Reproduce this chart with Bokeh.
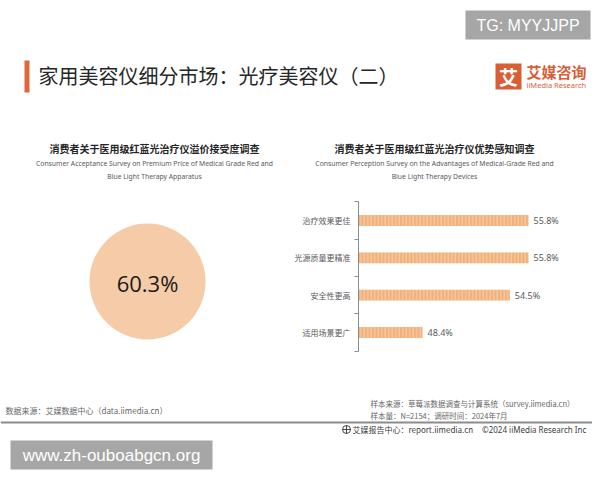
from bokeh.plotting import figure
from bokeh.layouts import column, row
from bokeh.models import Range1d, FixedTicker
from bokeh.core.properties import value
from bokeh.embed import file_html
from bokeh.resources import INLINE

# ---------------- data ----------------
page_title = "家用美容仪细分市场：光疗美容仪（二）"
watermark_top = "TG: MYYJJPP"
watermark_bottom = "www.zh-ouboabgcn.org"
logo_cn = "艾媒咨询"
logo_en = "iiMedia Research"

left_title_cn = "消费者关于医用级红蓝光治疗仪溢价接受度调查"
left_title_en = ["Consumer Acceptance Survey on Premium Price of Medical Grade Red and",
                 "Blue Light Therapy Apparatus"]
acceptance_rate = 60.3

right_title_cn = "消费者关于医用级红蓝光治疗仪优势感知调查"
right_title_en = ["Consumer Perception Survey on the Advantages of Medical-Grade Red and",
                  "Blue Light Therapy Devices"]
categories = ["治疗效果更佳", "光源质量更精准", "安全性更高", "适用场景更广"]
values = [55.8, 55.8, 54.5, 48.4]

source_left = "数据来源：艾媒数据中心（data.iimedia.cn）"
source_right = ["样本来源：草莓派数据调查与计算系统（survey.iimedia.cn）",
                "样本量：N=2154；调研时间：2024年7月"]
footer_left = "艾媒报告中心：report.iimedia.cn"
footer_right = "©2024  iiMedia Research  Inc"

CJK = "Noto Sans CJK SC"
LAT = "Liberation Sans"
ORANGE = "#E0673A"
LOGO = "#D75E36"
GRAY_BOX = "#A6A6A6"


def canvas(w, h, x0, x1, y_top, y_bottom):
    p = figure(width=w, height=h, x_range=Range1d(x0, x1),
               y_range=Range1d(start=y_bottom, end=y_top),
               x_axis_location=None, y_axis_location=None,
               toolbar_location=None, output_backend="svg",
               min_border=0, outline_line_color=None,
               background_fill_color="white", border_fill_color="white")
    p.grid.visible = False
    return p


def txt(p, x, y, s, size, color="#333333", font=CJK, align="left", style="normal"):
    p.text(x=[x], y=[y], text=[s], text_font=value(font), text_font_size=value(size),
           text_color=color, text_align=align, text_baseline="middle",
           text_font_style=style)


# ---------------- header ----------------
head = canvas(592, 198, 0, 592, 0, 198)
head.quad(left=[465], right=[590], top=[10], bottom=[39], fill_color=GRAY_BOX, line_color=None)
txt(head, 527.5, 24.5, watermark_top, "16px", "white", LAT, "center")
head.quad(left=[24], right=[29], top=[60], bottom=[92], fill_color=ORANGE, line_color=None)
txt(head, 38, 75, page_title, "20px", "#262626")
head.quad(left=[495], right=[521], top=[63], bottom=[89], fill_color=LOGO, line_color=None)
txt(head, 508, 76, "艾", "19px", "white", CJK, "center", "bold")
txt(head, 526, 71, logo_cn, "15px", LOGO, CJK, "left", "bold")
txt(head, 526, 84, logo_en, "7.5px", LOGO, "Noto Sans")

txt(head, 154, 148, left_title_cn, "10px", "#262626", CJK, "center", "bold")
txt(head, 154, 163, left_title_en[0], "6.8px", "#595959", "Noto Sans", "center")
txt(head, 154, 176, left_title_en[1], "6.8px", "#595959", "Noto Sans", "center")
txt(head, 434, 148, right_title_cn, "10px", "#262626", CJK, "center", "bold")
txt(head, 434, 163, right_title_en[0], "6.8px", "#595959", "Noto Sans", "center")
txt(head, 434, 176, right_title_en[1], "6.8px", "#595959", "Noto Sans", "center")

# ---------------- left: bubble ----------------
left = canvas(288, 160, 0, 288, 198, 358)
left.circle(x=[147], y=[281], radius=58, fill_color="#F6CBA8", line_color=None)
txt(left, 147, 282, f"{acceptance_rate}%", "22px", "#1A1A1A", "Open Sans", "center")

# ---------------- right: bar chart ----------------
n = len(categories)
ypos = [n - i - 0.5 for i in range(n)]
right = figure(width=304, height=160, x_range=Range1d(43.93, 60.27),
               y_range=Range1d(-0.196, 4.089), x_axis_location=None,
               toolbar_location=None, output_backend="svg",
               min_border=0, min_border_left=70, outline_line_color=None,
               background_fill_color="white", border_fill_color="white")
right.grid.visible = False
right.hbar(y=ypos, left=0, right=values, height=0.29,
           fill_color="#F1B07A", line_color=None,
           hatch_pattern="vertical_line", hatch_color="#FADBBE",
           hatch_scale=3.5, hatch_weight=1, hatch_alpha=0.8)
right.text(x=values, y=ypos, text=[f"{v}%" for v in values], x_offset=5,
           text_font=value("Noto Sans"), text_font_size=value("9px"),
           text_color="#595959", text_baseline="middle", text_align="left")
ya = right.yaxis[0]
ya.ticker = FixedTicker(ticks=ypos, minor_ticks=list(range(n + 1)))
ya.major_label_overrides = {y: c for y, c in zip(ypos, categories)}
ya.bounds = (0, n)
ya.axis_line_color = "#8C8C8C"
ya.major_tick_line_color = None
ya.major_tick_out = 0
ya.major_tick_in = 0
ya.minor_tick_line_color = "#8C8C8C"
ya.minor_tick_out = 4
ya.minor_tick_in = 0
ya.major_label_standoff = 4
ya.major_label_text_font = CJK
ya.major_label_text_font_size = "8px"
ya.major_label_text_color = "#595959"

# ---------------- footer ----------------
foot = canvas(592, 114, 0, 592, 358, 472)
txt(foot, 5, 410, source_left, "8px", "#666666")
txt(foot, 370, 403, source_right[0], "7.5px", "#666666")
txt(foot, 370, 415, source_right[1], "7.5px", "#666666")
foot.segment(x0=[0], y0=[422], x1=[592], y1=[422], line_color="#8C8C8C", line_width=2)
foot.scatter(x=[346], y=[429], marker="circle_cross", size=8, fill_color=None,
             line_color="#444444", line_width=1)
txt(foot, 352, 429, footer_left, "8px", "#404040")
txt(foot, 590, 429, footer_right, "8px", "#404040", "Noto Sans", "right")
foot.quad(left=[10], right=[212], top=[440], bottom=[469], fill_color=GRAY_BOX, line_color=None)
txt(foot, 111, 454.5, watermark_bottom, "17px", "white", LAT, "center")

layout = column(head, row(left, right), foot)
open("out.html", "w").write(file_html(layout, INLINE))
